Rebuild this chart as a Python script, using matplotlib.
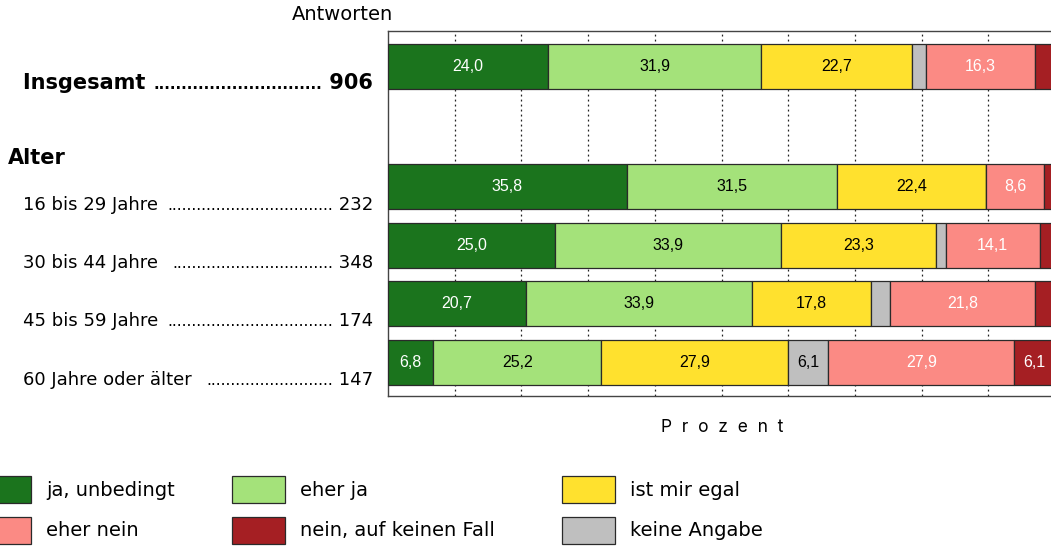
import matplotlib
matplotlib.use("Agg")
import matplotlib.pyplot as plt
from matplotlib.patches import Rectangle

plt.rcParams["font.family"] = ["DejaVu Sans"]

# ── Daten ────────────────────────────────────────────────────────────
KATEGORIEN = ["ja, unbedingt", "eher ja", "ist mir egal",
              "keine Angabe", "eher nein", "nein, auf keinen Fall"]
FARBEN = ["#1b741d", "#a4e27a", "#ffe12e", "#bfbfbf", "#fb8a84", "#a51f23"]
TEXTFARBEN = ["white", "black", "black", "black", "white", "white"]

ZEILEN = ["Insgesamt", "16 bis 29 Jahre", "30 bis 44 Jahre",
          "45 bis 59 Jahre", "60 Jahre oder älter"]
ANTWORTEN = [906, 232, 348, 174, 147]

ja_unbedingt = [24.0, 35.8, 25.0, 20.7, 6.8]
eher_ja      = [31.9, 31.5, 33.9, 33.9, 25.2]
egal         = [22.7, 22.4, 23.3, 17.8, 27.9]
keine_angabe = [2.1, 0.0, 1.4, 2.8, 6.1]
eher_nein    = [16.3, 8.6, 14.1, 21.8, 27.9]
nein         = [3.0, 1.7, 2.3, 3.0, 6.1]
WERTE = [ja_unbedingt, eher_ja, egal, keine_angabe, eher_nein, nein]

# Beschriftung nur bei Segmenten ab 5 %
MIN_LABEL = 5.0

W, H = 1051, 546
fig = plt.figure(figsize=(W / 100, H / 100), dpi=100)

def fx(px):
    return px / W

def fy(py):
    return 1 - py / H

ax = fig.add_axes([fx(388), fy(396), fx(1055 - 388), fy(31) - fy(396)])
ypos = [0, 2.07, 3.07, 4.07, 5.07]
bar_h = 0.77

left = [0.0] * len(ZEILEN)
for vals, col, tcol in zip(WERTE, FARBEN, TEXTFARBEN):
    ax.barh(ypos, vals, left=left, height=bar_h, color=col,
            edgecolor="#2a2a2a", linewidth=0.9, zorder=3)
    for y, l, v in zip(ypos, left, vals):
        if v >= MIN_LABEL:
            ax.text(l + v / 2, y, f"{v:.1f}".replace(".", ","),
                    ha="center", va="center", color=tcol, fontsize=11.5,
                    family=["Liberation Sans", "DejaVu Sans"], zorder=4)
    left = [l + v for l, v in zip(left, vals)]

ax.set_xlim(0, 100)
ax.set_ylim(5.65, -0.6)
for g in range(10, 100, 10):
    ax.axvline(g, color="#222222", lw=0.9, ls=(0, (1.5, 2.5)), zorder=1)
ax.set_xticks([])
ax.set_yticks([])
for s in ax.spines.values():
    s.set_color("#444444")
    s.set_linewidth(1.0)

# ── Beschriftungen links ──────────────────────────────────────────────
fig.text(fx(393), fy(20), "Antworten", ha="right", va="baseline", fontsize=14)
fig.text(fx(8), fy(164), "Alter", ha="left", va="baseline", fontsize=15,
         fontweight="bold")

renderer = fig.canvas.get_renderer()

def zeile(base_px, name, n, bold, size, dot_size, gap):
    kw = dict(fontsize=size, fontweight="bold" if bold else "normal",
              va="baseline")
    dkw = dict(kw, fontsize=dot_size)
    t1 = fig.text(fx(23), fy(base_px), name + gap, ha="left", **kw)
    t2 = fig.text(fx(373), fy(base_px), " " + str(n), ha="right", **kw)
    x0 = t1.get_window_extent(renderer).x1
    x1 = t2.get_window_extent(renderer).x0
    dots = ""
    while True:
        t3 = fig.text(x0 / W, fy(base_px), dots + ".", ha="left", **dkw)
        w = t3.get_window_extent(renderer).width
        t3.remove()
        if x0 + w > x1:
            break
        dots += "."
    fig.text(x1 / W, fy(base_px), dots, ha="right", **dkw)

basis_zeilen = [89, 209.5, 268, 326.5, 385]
for i, (name, n) in enumerate(zip(ZEILEN, ANTWORTEN)):
    if i == 0:
        zeile(basis_zeilen[i], name, n, True, 15, 10.5, " ")
    else:
        zeile(basis_zeilen[i], name, n, False, 13, 11, "  " if i in (2, 4) else " ")

# ── Achsentitel ──────────────────────────────────────────────────────
fig.text(fx(722), fy(427), "  ".join("Prozent"), ha="center", va="center",
         fontsize=12.5, family=["Inter", "DejaVu Sans"])

# ── Legende ──────────────────────────────────────────────────────────
leg_pos = [(-22, 476, 46), (232, 476, 300), (562, 476, 630),
           (-22, 517, 46), (232, 517, 300), (562, 517, 630)]
leg_order = [0, 1, 2, 4, 5, 3]
for (px, py, tx), k in zip(leg_pos, leg_order):
    fig.patches.append(Rectangle((fx(px), fy(py + 27)), fx(53), fy(py) - fy(py + 27),
                                 transform=fig.transFigure, facecolor=FARBEN[k],
                                 edgecolor="#2a2a2a", linewidth=0.9))
    fig.text(fx(tx), fy(py + 14), KATEGORIEN[k], ha="left", va="center",
             fontsize=14)

fig.savefig("out.png", dpi=100)
